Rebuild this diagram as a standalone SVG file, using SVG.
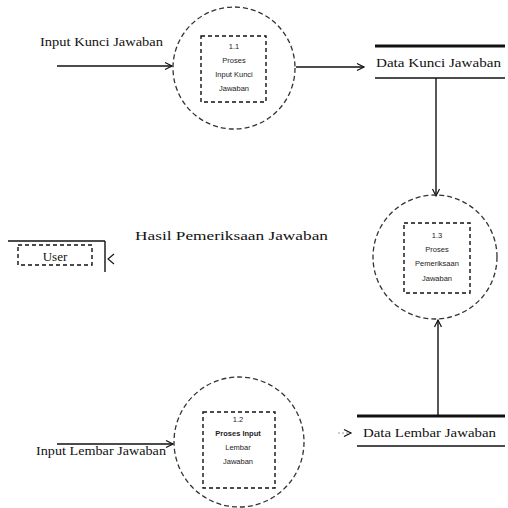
<svg xmlns="http://www.w3.org/2000/svg" width="508" height="508" viewBox="0 0 508 508">
<defs>
<style>
.proc{fill:none;stroke:#333;stroke-width:1.3;stroke-dasharray:5 3}
.box{fill:none;stroke:#111;stroke-width:1.4;stroke-dasharray:4 3}
.flow{fill:none;stroke:#111;stroke-width:1.4}
.lbl{font-family:"Liberation Serif",serif;font-size:13px;fill:#111}
.ptx{font-family:"Liberation Sans",sans-serif;font-size:7.5px;fill:#222;text-anchor:middle}
.store{stroke:#111}
</style>
<marker id="ah" markerWidth="10" markerHeight="10" refX="8" refY="5" orient="auto" markerUnits="userSpaceOnUse">
<path d="M1,1.5 L8,5 L1,8.5" fill="none" stroke="#111" stroke-width="1.2"/>
</marker>
</defs>
<rect width="508" height="508" fill="#fff"/>

<g id="connectors">
<line class="flow" x1="57" y1="66" x2="172" y2="66" marker-end="url(#ah)"/>
<line class="flow" x1="296" y1="67" x2="364" y2="67" marker-end="url(#ah)"/>
<line class="flow" x1="436" y1="78" x2="436" y2="196" marker-end="url(#ah)"/>
<line class="flow" x1="438" y1="416" x2="438" y2="320" marker-end="url(#ah)"/>
<line class="flow" x1="57" y1="444" x2="173" y2="444" marker-end="url(#ah)"/>
<line x1="338" y1="433" x2="351" y2="433" stroke="#999" stroke-width="1" stroke-dasharray="2 2" marker-end="url(#ah)"/>
<path d="M114,254 L108,259 L114,264" fill="none" stroke="#111" stroke-width="1.1"/>
<text class="lbl" x="40" y="46" textLength="123" lengthAdjust="spacingAndGlyphs">Input Kunci Jawaban</text>
<text class="lbl" x="36" y="455" textLength="130" lengthAdjust="spacingAndGlyphs">Input Lembar Jawaban</text>
<text class="lbl" x="135" y="240" font-size="15" textLength="193" lengthAdjust="spacingAndGlyphs">Hasil Pemeriksaan Jawaban</text>
</g>

<g id="p11">
<circle class="proc" cx="234" cy="68" r="61"/>
<rect class="box" x="201" y="36" width="65" height="66"/>
<text class="ptx" x="234" y="49">1.1</text>
<text class="ptx" x="234" y="63">Proses</text>
<text class="ptx" x="234" y="77">Input Kunci</text>
<text class="ptx" x="234" y="91">Jawaban</text>
</g>

<g id="p13">
<circle class="proc" cx="435" cy="257" r="62"/>
<rect class="box" x="404" y="223" width="66" height="70"/>
<text class="ptx" x="437" y="238">1.3</text>
<text class="ptx" x="437" y="252">Proses</text>
<text class="ptx" x="437" y="266">Pemeriksaan</text>
<text class="ptx" x="437" y="281">Jawaban</text>
</g>

<g id="p12">
<circle class="proc" cx="239" cy="442" r="65"/>
<rect class="box" x="203" y="412" width="72" height="76"/>
<text class="ptx" x="238" y="422">1.2</text>
<text class="ptx" x="238" y="436" font-size="9" font-weight="bold">Proses Input</text>
<text class="ptx" x="238" y="450">Lembar</text>
<text class="ptx" x="238" y="464">Jawaban</text>
</g>

<g id="ds1">
<line class="store" x1="375" y1="46" x2="505" y2="46" stroke-width="3"/>
<line class="store" x1="375" y1="78" x2="505" y2="78" stroke-width="1.4"/>
<text class="lbl" x="376" y="67" font-size="14" textLength="125" lengthAdjust="spacingAndGlyphs">Data Kunci Jawaban</text>
</g>

<g id="ds2">
<line class="store" x1="357" y1="416" x2="505" y2="416" stroke-width="3"/>
<line class="store" x1="357" y1="446" x2="505" y2="446" stroke-width="1.4"/>
<text class="lbl" x="363" y="437" font-size="14" textLength="133" lengthAdjust="spacingAndGlyphs">Data Lembar Jawaban</text>
</g>

<g id="user">
<line x1="8" y1="241" x2="105" y2="241" stroke="#111" stroke-width="1.4"/>
<line x1="105" y1="241" x2="105" y2="272" stroke="#111" stroke-width="1.4"/>
<rect class="box" x="18" y="245" width="74" height="20" stroke-width="1"/>
<text class="lbl" x="55" y="261" text-anchor="middle" font-size="13">User</text>
</g>
</svg>
